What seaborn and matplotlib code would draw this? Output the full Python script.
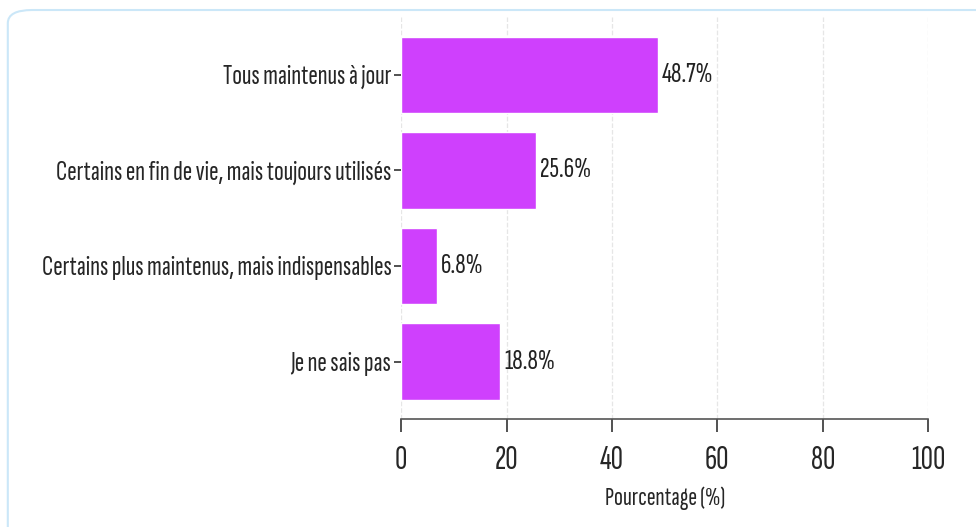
import matplotlib
matplotlib.use("Agg")
import matplotlib.pyplot as plt
from matplotlib.patches import FancyBboxPatch
import seaborn as sns
import pandas as pd

categories = [
    "Tous maintenus à jour",
    "Certains en fin de vie, mais toujours utilisés",
    "Certains plus maintenus, mais indispensables",
    "Je ne sais pas",
]
percentages = [48.7, 25.6, 6.8, 18.8]
x_ticks = [0, 20, 40, 60, 80, 100]

df = pd.DataFrame({"categorie": categories, "pourcentage": percentages})

sns.set_theme(style="white")
plt.rcParams["font.family"] = ["Sofia Sans Extra Condensed", "Roboto Condensed", "DejaVu Sans"]
plt.rcParams["text.color"] = "#222222"

fig = plt.figure(figsize=(9.76, 5.27), dpi=100)
ax = fig.add_axes([0.411, 0.205, 0.540, 0.762])

# cadre arrondi autour de la figure
frame = FancyBboxPatch((0.008, -0.05), 1.05, 1.031,
                       boxstyle="round,pad=0,rounding_size=0.025",
                       transform=fig.transFigure, facecolor="none",
                       edgecolor="#cbe7f8", linewidth=1.5, zorder=0)
fig.patches.append(frame)

sns.barplot(data=df, x="pourcentage", y="categorie", color="#cf40fd",
            saturation=1, width=0.8, ax=ax, zorder=2)

for i, v in enumerate(percentages):
    ax.text(v + 0.8, i, f"{v}%", va="center", ha="left", fontsize=21,
            color="#222222")

ax.set_xlim(0, 100)
ax.set_ylim(3.6, -0.6)
ax.set_xticks(x_ticks)
ax.set_xticklabels([str(t) for t in x_ticks], fontsize=24.5)
ax.tick_params(axis="y", labelsize=20.5, length=5, width=1.2, color="#333333", left=True, pad=2)
ax.tick_params(axis="x", length=9, width=1.2, color="#333333", bottom=True, pad=10)
ax.set_ylabel("")
ax.set_xlabel("Pourcentage (%)", fontsize=19, labelpad=8)

ax.xaxis.grid(True, linestyle="--", color="#e6e6e6", linewidth=0.9, zorder=0)
ax.set_axisbelow(True)
sns.despine(ax=ax, left=True)
ax.spines["bottom"].set_color("#555555")
ax.spines["bottom"].set_linewidth(1.2)

fig.savefig("out.png", dpi=100)
